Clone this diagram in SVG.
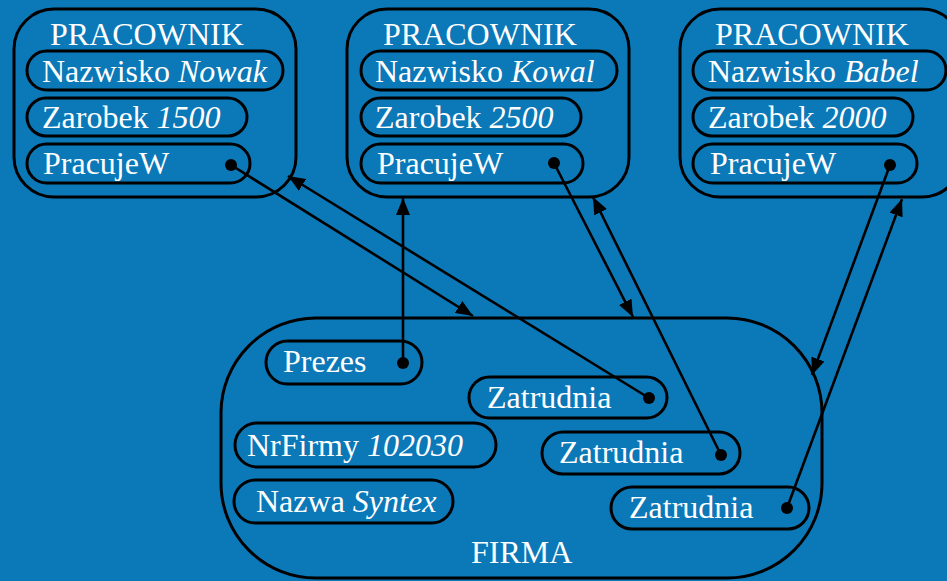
<svg xmlns="http://www.w3.org/2000/svg" width="947" height="581" viewBox="0 0 947 581">
<defs>
<style>
.box{fill:none;stroke:#000;stroke-width:3}
.pill{fill:none;stroke:#000;stroke-width:3}
.t{font-family:"Liberation Serif","Times New Roman",serif;font-size:32px;fill:#fff}
.i{font-style:italic}
.dot{fill:#000}
.c{stroke:#000;stroke-width:2.6;fill:none;marker-end:url(#ah)}
</style>
<marker id="ah" markerUnits="userSpaceOnUse" markerWidth="18" markerHeight="14" refX="17" refY="7" orient="auto">
<path d="M0,0 L17,7 L0,14 z" fill="#000"/>
</marker>
</defs>
<rect width="947" height="581" fill="#0b78b8"/>

<g id="pracownik1">
<rect class="box" x="14" y="9" width="282" height="188" rx="40"/>
<text class="t" x="50" y="45">PRACOWNIK</text>
<rect class="pill" x="27" y="51" width="256" height="39" rx="19.5"/>
<text class="t" x="42" y="82">Nazwisko <tspan class="i">Nowak</tspan></text>
<rect class="pill" x="27" y="98" width="220" height="38" rx="19"/>
<text class="t" x="42" y="128">Zarobek <tspan class="i">1500</tspan></text>
<rect class="pill" x="27" y="144" width="223" height="39" rx="19.5"/>
<text class="t" x="43" y="174">PracujeW</text>
<circle class="dot" cx="231" cy="165" r="6"/>
</g>

<g id="pracownik2">
<rect class="box" x="347" y="9" width="282" height="188" rx="40"/>
<text class="t" x="383" y="45">PRACOWNIK</text>
<rect class="pill" x="361" y="51" width="256" height="39" rx="19.5"/>
<text class="t" x="375" y="82">Nazwisko <tspan class="i">Kowal</tspan></text>
<rect class="pill" x="361" y="98" width="220" height="38" rx="19"/>
<text class="t" x="375" y="128">Zarobek <tspan class="i">2500</tspan></text>
<rect class="pill" x="361" y="144" width="222" height="39" rx="19.5"/>
<text class="t" x="377" y="174">PracujeW</text>
<circle class="dot" cx="554" cy="163" r="6"/>
</g>

<g id="pracownik3">
<rect class="box" x="680" y="9" width="282" height="188" rx="40"/>
<text class="t" x="715" y="45">PRACOWNIK</text>
<rect class="pill" x="693" y="51" width="253" height="39" rx="19.5"/>
<text class="t" x="708" y="82">Nazwisko <tspan class="i">Babel</tspan></text>
<rect class="pill" x="693" y="98" width="220" height="38" rx="19"/>
<text class="t" x="708" y="128">Zarobek <tspan class="i">2000</tspan></text>
<rect class="pill" x="693" y="144" width="224" height="39" rx="19.5"/>
<text class="t" x="710" y="174">PracujeW</text>
<circle class="dot" cx="890" cy="165" r="6"/>
</g>

<g id="firma">
<rect class="box" x="221" y="318" width="601" height="260" rx="95"/>
<text class="t" x="471" y="563">FIRMA</text>
<rect class="pill" x="266" y="341" width="156" height="43" rx="21.5"/>
<text class="t" x="283" y="372">Prezes</text>
<circle class="dot" cx="403" cy="363" r="6"/>
<rect class="pill" x="469" y="377" width="198" height="41" rx="20.5"/>
<text class="t" x="487" y="408">Zatrudnia</text>
<circle class="dot" cx="649" cy="398" r="6"/>
<rect class="pill" x="542" y="432" width="198" height="42" rx="21"/>
<text class="t" x="559" y="463">Zatrudnia</text>
<circle class="dot" cx="721" cy="455" r="6"/>
<rect class="pill" x="611" y="487" width="198" height="42" rx="21"/>
<text class="t" x="629" y="518">Zatrudnia</text>
<circle class="dot" cx="787" cy="508" r="6"/>
<rect class="pill" x="235" y="423" width="261" height="44" rx="22"/>
<text class="t" x="247" y="456">NrFirmy <tspan class="i">102030</tspan></text>
<rect class="pill" x="234" y="480" width="219" height="43" rx="21.5"/>
<text class="t" x="256" y="512">Nazwa <tspan class="i">Syntex</tspan></text>
</g>

<g id="connectors">
<line class="c" x1="231" y1="165" x2="473" y2="316"/>
<line class="c" x1="649" y1="398" x2="288" y2="176"/>
<line class="c" x1="403" y1="363" x2="403" y2="198"/>
<line class="c" x1="554" y1="163" x2="633" y2="317"/>
<line class="c" x1="721" y1="455" x2="593" y2="197"/>
<line class="c" x1="890" y1="165" x2="812" y2="375"/>
<line class="c" x1="787" y1="508" x2="902" y2="199"/>
</g>
</svg>
